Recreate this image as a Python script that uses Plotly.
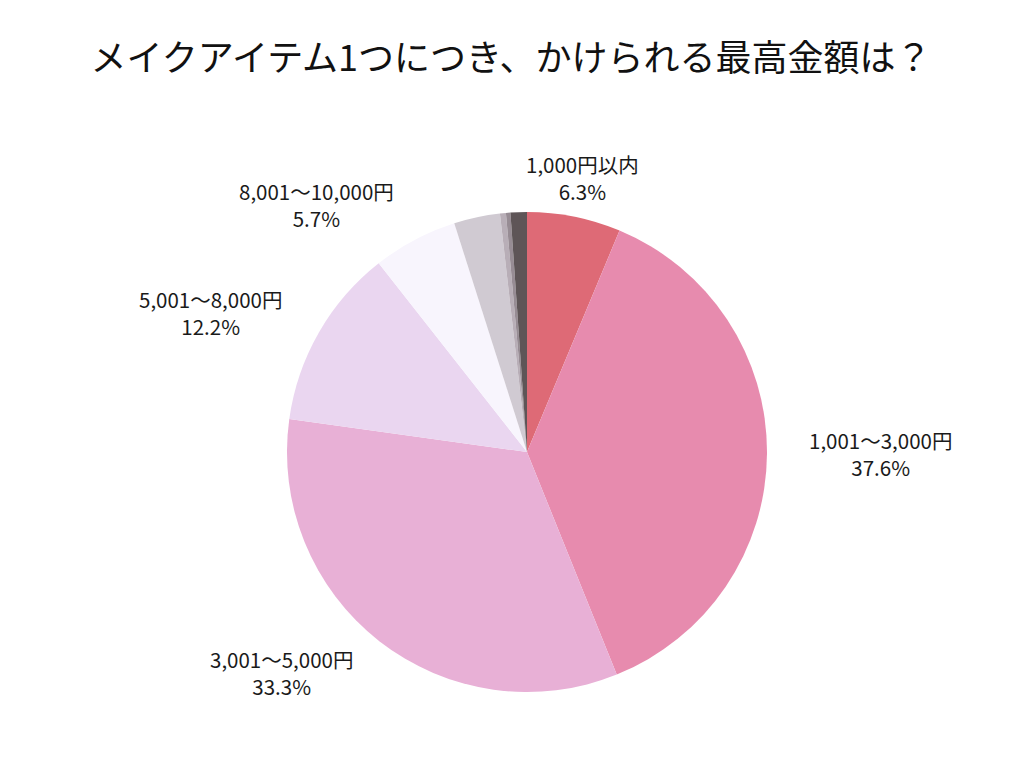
import math
import plotly.graph_objects as go

labels = ["1,000円以内", "1,001～3,000円", "3,001～5,000円", "5,001～8,000円",
          "8,001～10,000円", "10,001～15,000円", "15,001～20,000円", "20,001円以上", "わからない"]
values = [6.3, 37.6, 33.3, 12.2, 5.7, 3.1, 0.4, 0.3, 1.1]
colors = ["#DE6A76", "#E78BAE", "#E8B0D6", "#EAD6F0", "#F8F5FD",
          "#D0CAD2", "#B8AEB7", "#978C94", "#5E5557"]
show_label = [True, True, True, True, True, False, False, False, False]

W, H = 1024, 768
OFF = 8                         # page body margin
CX, CY, R = 527 - OFF, 452 - OFF, 240
LABEL_R = 280

fig = go.Figure(go.Pie(
    labels=labels,
    values=values,
    sort=False,
    direction="clockwise",
    rotation=0,
    marker=dict(colors=colors, line=dict(width=0)),
    textinfo="none",
    showlegend=False,
    domain=dict(x=[(CX - R) / W, (CX + R) / W],
                y=[(H - CY - R) / H, (H - CY + R) / H]),
))

total = sum(values)
cum = 0.0
for lab, v, show in zip(labels, values, show_label):
    mid = (cum + v / 2) / total * 2 * math.pi
    cum += v
    if not show:
        continue
    s, c = math.sin(mid), math.cos(mid)
    px = CX + LABEL_R * s
    py = CY - LABEL_R * c
    xanchor = "left" if s > 0.3 else ("right" if s < -0.3 else "center")
    fig.add_annotation(
        x=px / W, y=1 - py / H, xref="paper", yref="paper",
        text=f"{lab}<br>{v / total * 100:.1f}%",
        showarrow=False, xanchor=xanchor, yanchor="middle", align="center",
        font=dict(size=20.5, color="#1a1a1a", family="Noto Sans CJK JP"),
    )

fig.update_layout(
    width=W, height=H,
    paper_bgcolor="white", plot_bgcolor="white",
    font=dict(family="Noto Sans CJK JP"),
    title=dict(text="メイクアイテム1つにつき、かけられる最高金額は？",
               x=(511 - OFF) / W, xanchor="center", y=1 - (58 - OFF) / H, yanchor="middle",
               font=dict(size=36, color="#111111", family="Noto Sans CJK JP")),
    margin=dict(l=0, r=0, t=0, b=0),
)

fig.write_html("out.html")
